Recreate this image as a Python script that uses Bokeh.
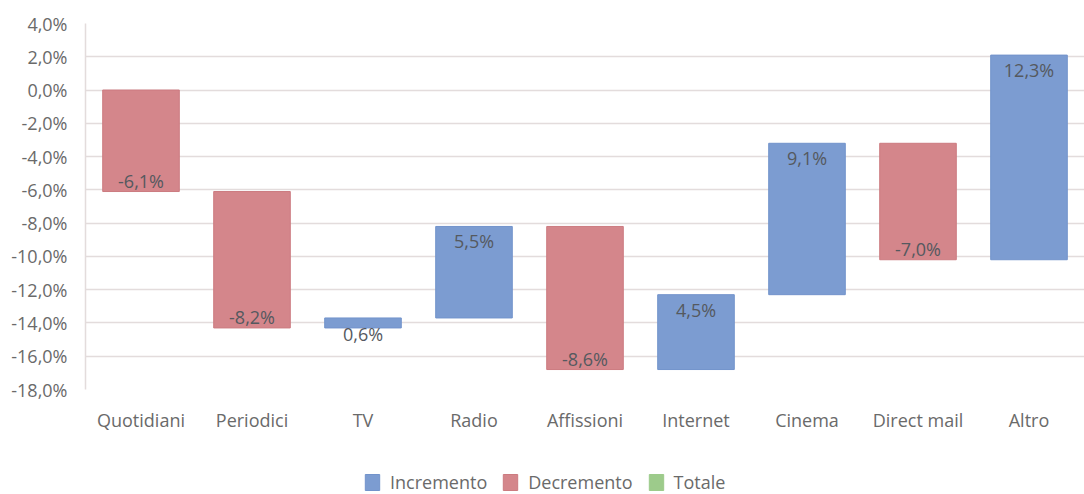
from bokeh.plotting import figure
from bokeh.layouts import column
from bokeh.models import ColumnDataSource, FixedTicker, Range1d, FactorRange, Legend, LegendItem
from bokeh.core.properties import value
from bokeh.embed import file_html
from bokeh.resources import INLINE

# ---- data ----
categories = ["Quotidiani", "Periodici", "TV", "Radio", "Affissioni",
              "Internet", "Cinema", "Direct mail", "Altro"]
changes = [-6.1, -8.2, 0.6, 5.5, -8.6, 4.5, 9.1, -7.0, 12.3]
y_ticks = [4, 2, 0, -2, -4, -6, -8, -10, -12, -14, -16, -18]
y_tick_labels = ["4,0%", "2,0%", "0,0%", "-2,0%", "-4,0%", "-6,0%", "-8,0%",
                 "-10,0%", "-12,0%", "-14,0%", "-16,0%", "-18,0%"]
legend_labels = ["Incremento", "Decremento", "Totale"]

# ---- waterfall geometry from data ----
bottoms, tops = [], []
run = 0.0
for v in changes:
    start, end = run, run + v
    bottoms.append(min(start, end))
    tops.append(max(start, end))
    run = end

def fmt(v):
    return f"{v:.1f}".replace(".", ",") + "%"

inc = dict(x=[], top=[], bottom=[])
dec = dict(x=[], top=[], bottom=[])
lab = dict(x=[], y=[], text=[], off=[])
for c, v, b, t in zip(categories, changes, bottoms, tops):
    d = inc if v >= 0 else dec
    d["x"].append(c); d["top"].append(t); d["bottom"].append(b)
    lab["x"].append(c); lab["text"].append(fmt(v))
    if abs(v) < 1:
        lab["y"].append(b); lab["off"].append(6)
    elif v >= 0:
        lab["y"].append(t); lab["off"].append(15)
    else:
        lab["y"].append(b); lab["off"].append(-11)

# "Totale" series: present in the legend, no bar in this chart (zero height)
tot = dict(x=[categories[-1]], top=[run], bottom=[run])

FONT = "Open Sans"
GRID = "#e3dcdc"
BLUE, BLUE_L = "#7c9cd1", "#7293cb"
RED, RED_L = "#d4868b", "#cc7b80"
GREEN = "#9dcb8b"

inc_src = ColumnDataSource(inc)
dec_src = ColumnDataSource(dec)
tot_src = ColumnDataSource(tot)

p = figure(x_range=FactorRange(*categories), y_range=Range1d(-18, 4),
           width=1084, height=448, output_backend="svg", toolbar_location=None,
           min_border_left=85, min_border_right=0, min_border_top=23,
           min_border_bottom=59)
p.outline_line_color = None

p.vbar(x="x", top="top", bottom="bottom", width=0.69, source=inc_src,
       fill_color=BLUE, line_color=BLUE_L, line_width=1)
p.vbar(x="x", top="top", bottom="bottom", width=0.69, source=dec_src,
       fill_color=RED, line_color=RED_L, line_width=1)

p.text(x="x", y="y", text="text", y_offset="off", source=ColumnDataSource(lab),
       text_align="center", text_baseline="middle",
       text_font=value(FONT), text_font_size="18px", text_color="#55595f")

# axes
p.yaxis.ticker = FixedTicker(ticks=y_ticks)
p.yaxis.major_label_overrides = {t: l for t, l in zip(y_ticks, y_tick_labels)}
p.yaxis.major_tick_line_color = None
p.yaxis.minor_tick_line_color = None
p.yaxis.axis_line_color = GRID
p.yaxis.axis_line_width = 1.5
p.yaxis.major_label_standoff = 12
p.yaxis.major_label_text_font = FONT
p.yaxis.major_label_text_font_size = "18px"
p.yaxis.major_label_text_color = "#6a6a6a"

p.xaxis.axis_line_color = None
p.xaxis.major_tick_line_color = None
p.xaxis.major_label_standoff = 12
p.xaxis.major_label_text_font = FONT
p.xaxis.major_label_text_font_size = "18px"
p.xaxis.major_label_text_color = "#6a6a6a"

p.xgrid.grid_line_color = None
p.ygrid.ticker = FixedTicker(ticks=y_ticks)
p.ygrid.grid_line_color = GRID
p.ygrid.grid_line_width = 1.5

# ---- legend strip (bars kept out of view; only the legend shows) ----
lf = figure(x_range=FactorRange(*categories), y_range=Range1d(100, 101),
            width=1084, height=46, output_backend="svg", toolbar_location=None,
            x_axis_type=None, y_axis_type=None,
            min_border_left=0, min_border_right=0, min_border_top=0,
            min_border_bottom=0)
lf.outline_line_color = None
lf.xgrid.visible = False
lf.ygrid.visible = False
l_inc = lf.vbar(x="x", top="top", bottom="bottom", width=0.69, source=inc_src,
                fill_color=BLUE, line_color=BLUE_L)
l_dec = lf.vbar(x="x", top="top", bottom="bottom", width=0.69, source=dec_src,
                fill_color=RED, line_color=RED_L)
l_tot = lf.vbar(x="x", top="top", bottom="bottom", width=0.69, source=tot_src,
                fill_color=GREEN, line_color=GREEN)

legend = Legend(items=[LegendItem(label=legend_labels[0], renderers=[l_inc]),
                       LegendItem(label=legend_labels[1], renderers=[l_dec]),
                       LegendItem(label=legend_labels[2], renderers=[l_tot])],
                orientation="horizontal", location=(278, 0),
                glyph_width=18, glyph_height=20, label_standoff=9, spacing=14,
                padding=0, margin=0, border_line_color=None,
                background_fill_alpha=0,
                label_text_font=FONT, label_text_font_size="18px",
                label_text_color="#6a6a6a")
lf.add_layout(legend, "center")

layout = column(p, lf, spacing=0)
open("out.html", "w").write(file_html(layout, INLINE))
